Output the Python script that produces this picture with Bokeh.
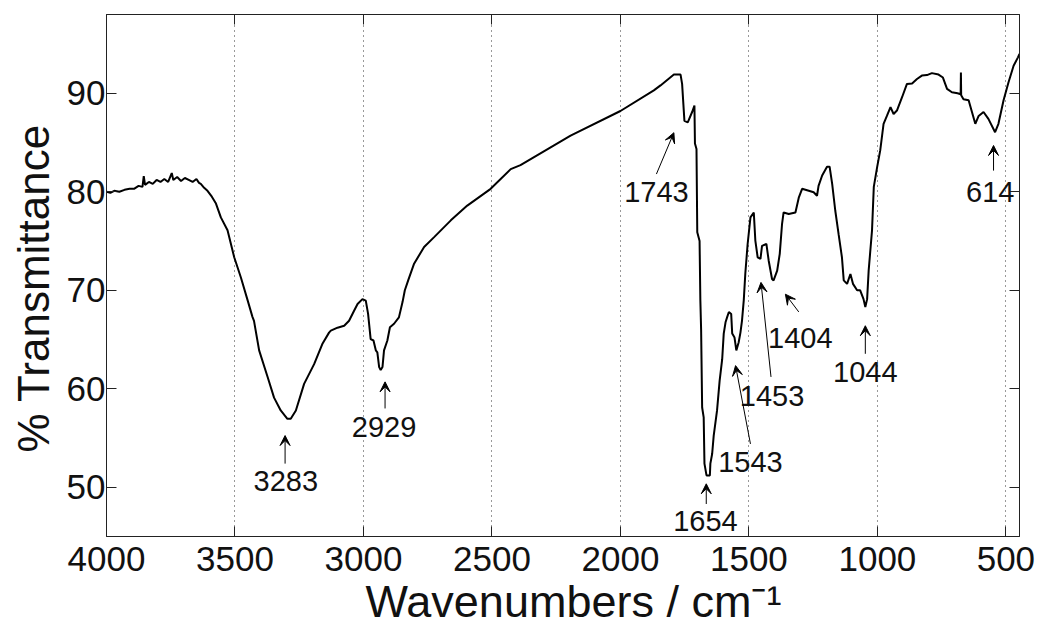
from bokeh.plotting import figure
from bokeh.models import (Range1d, FixedTicker, LinearAxis, Arrow, VeeHead,
                          ColumnDataSource, Title)
from bokeh.core.properties import value
from bokeh.embed import file_html
from bokeh.resources import INLINE

# ---------------- data ----------------
wavenumber = [
    4000, 3985, 3970, 3950, 3930, 3910, 3893, 3875, 3860, 3855, 3850, 3835, 3820,
    3805, 3790, 3775, 3760, 3746, 3740, 3725, 3710, 3695, 3680, 3665, 3650, 3640,
    3633, 3620, 3607, 3590, 3574, 3555, 3529, 3503, 3477, 3451, 3432, 3426, 3406,
    3373, 3348, 3322, 3296, 3283, 3263, 3231, 3192, 3159, 3134, 3127, 3101, 3075,
    3056, 3037, 3023, 3004, 2991, 2982, 2972, 2961, 2952, 2946, 2939, 2933, 2926,
    2920, 2907, 2897, 2881, 2862, 2848, 2839, 2826, 2803, 2764, 2725, 2660, 2596,
    2505, 2427, 2389, 2194, 2000, 1870, 1844, 1792, 1766, 1760, 1751, 1738, 1721,
    1712, 1710, 1704, 1701, 1692, 1689, 1686, 1682, 1676, 1673, 1665, 1652, 1650,
    1643, 1637, 1624, 1614, 1604, 1598, 1591, 1585, 1578, 1569, 1565, 1556, 1549,
    1540, 1533, 1527, 1520, 1514, 1505, 1494, 1481, 1475, 1466, 1455, 1449, 1432,
    1423, 1410, 1404, 1390, 1380, 1371, 1365, 1345, 1319, 1306, 1293, 1267, 1248,
    1235, 1229, 1215, 1196, 1186, 1176, 1164, 1151, 1138, 1131, 1118, 1105, 1095,
    1079, 1067, 1054, 1047, 1040, 1034, 1021, 1014, 1001, 989, 976, 963, 949, 937,
    924, 904, 885, 865, 846, 827, 807, 788, 762, 745, 729, 710, 688, 676, 675, 674,
    665, 645, 632, 619, 606, 587, 568, 542, 529, 509, 490, 470, 453, 447,
]
transmittance = [
    80.0, 79.9, 80.1, 80.0, 80.2, 80.3, 80.3, 80.6, 80.5, 81.6, 80.7, 81.0, 80.8,
    81.2, 81.0, 81.3, 81.0, 81.9, 81.2, 81.5, 81.1, 81.4, 81.2, 81.0, 81.3, 80.9,
    80.8, 80.4, 80.1, 79.5, 78.8, 77.4, 76.1, 73.35, 71.3, 69.0, 67.3, 66.9, 63.9,
    61.2, 59.1, 57.8, 56.95, 56.95, 57.8, 60.5, 62.5, 64.6, 65.7, 65.9, 66.2, 66.4,
    66.9, 67.9, 68.6, 69.1, 68.95, 67.6, 65.05, 64.9, 63.9, 63.7, 62.2, 61.9, 62.2,
    63.9, 64.9, 66.25, 66.6, 67.25, 68.8, 70.0, 71.0, 72.7, 74.4, 75.4, 77.1, 78.6,
    80.3, 82.3, 82.7, 85.7, 88.2, 90.3, 90.8, 91.9, 91.9, 90.95, 87.2, 87.05, 88.1,
    88.75, 84.9, 84.35, 75.9, 75.0, 69.0, 66.0, 58.1, 57.1, 52.4, 51.2, 51.2, 52.4,
    53.4, 55.25, 57.8, 60.8, 63.0, 65.6, 66.75, 67.25, 67.8, 67.6, 65.6, 65.2, 63.9,
    64.7, 65.7, 66.9, 69.0, 71.7, 74.7, 77.4, 77.9, 75.05, 73.35, 73.2, 74.5, 74.7,
    73.0, 71.15, 71.0, 72.0, 73.7, 76.75, 77.9, 77.75, 77.9, 79.4, 80.3, 80.1, 79.95,
    79.6, 80.6, 81.65, 82.55, 82.55, 80.8, 78.1, 75.7, 73.35, 71.0, 70.65, 71.65, 70.65,
    70.0, 70.0, 69.1, 68.3, 69.1, 72.0, 76.05, 80.5, 82.5, 84.2, 86.9, 87.7, 88.6, 87.9,
    88.25, 89.6, 90.95, 91.0, 91.45, 91.8, 91.85, 92.05, 91.9, 91.6, 90.45, 90.1, 90.0,
    89.9, 92.1, 89.8, 89.4, 89.3, 88.1, 86.9, 87.7, 88.1, 87.4, 86.05, 86.9, 89.3,
    91.1, 92.8, 93.65, 94.0,
]

# peak annotations
peak_labels = ["3283", "2929", "1743", "1654", "1543", "1453", "1404", "1044", "614"]
label_x = [3302, 2920, 1860, 1669, 1494, 1410, 1300, 1047, 561]
label_y = [50.65, 56.1, 79.95, 46.6, 52.6, 59.3, 65.2, 61.7, 79.95]
arrow_x_start = [3305, 2916, 1860, 1666, 1494, 1414, 1306, 1047, 548]
arrow_y_start = [52.4, 58.0, 81.8, 48.3, 54.4, 61.2, 67.8, 63.55, 82.15]
arrow_x_end = [3305, 2916, 1792, 1666, 1552, 1453, 1358, 1047, 548]
arrow_y_end = [55.25, 60.7, 86.0, 50.35, 62.35, 70.8, 69.6, 66.4, 84.7]

x_ticks = [500, 1000, 1500, 2000, 2500, 3000, 3500, 4000]
y_ticks = [50, 60, 70, 80, 90]

x_title = "Wavenumbers / cm\u207b\u00b9"
y_title = "% Transmittance"

FONT = "Liberation Sans"

p = figure(width=1037, height=630,
           x_range=Range1d(4000, 447), y_range=Range1d(45, 98),
           output_backend="svg", toolbar_location=None,
           min_border_left=106, min_border_right=18,
           min_border_top=14, min_border_bottom=94)
p.background_fill_color = "white"
p.border_fill_color = "white"
p.outline_line_color = "#222222"
p.outline_line_width = 1

# axes
for ax in (p.xaxis[0], p.yaxis[0]):
    ax.major_tick_in = 10
    ax.major_tick_out = 0
    ax.minor_tick_in = 0
    ax.minor_tick_out = 0
    ax.axis_line_color = "#222222"
    ax.major_tick_line_color = "#222222"
    ax.major_label_text_font = FONT
    ax.major_label_text_font_size = "35px"
    ax.major_label_text_color = "#111111"
p.xaxis[0].ticker = FixedTicker(ticks=x_ticks)
p.yaxis[0].ticker = FixedTicker(ticks=y_ticks)
p.xaxis[0].major_label_standoff = 10
p.yaxis[0].major_label_standoff = 1

top_axis = LinearAxis(ticker=FixedTicker(ticks=x_ticks),
                      major_label_overrides={t: "" for t in x_ticks},
                      major_label_text_font_size="1px",
                      major_tick_in=10, major_tick_out=0,
                      minor_tick_in=0, minor_tick_out=0,
                      axis_line_color="#222222", major_tick_line_color="#222222",
                      major_label_standoff=0)
right_axis = LinearAxis(ticker=FixedTicker(ticks=y_ticks),
                        major_label_overrides={t: "" for t in y_ticks},
                        major_label_text_font_size="1px",
                        major_tick_in=10, major_tick_out=0,
                        minor_tick_in=0, minor_tick_out=0,
                        axis_line_color="#222222", major_tick_line_color="#222222",
                        major_label_standoff=0)
p.add_layout(top_axis, "above")
p.add_layout(right_axis, "right")

# axis titles
p.add_layout(Title(text=x_title, align="left", offset=259, standoff=1,
                   text_line_height=0.8, text_baseline="alphabetic",
                   text_font=FONT, text_font_size="45px",
                   text_font_style="normal", text_color="#111111"), "below")
p.add_layout(Title(text=y_title, align="left", offset=84, standoff=12,
                   text_font=FONT, text_font_size="44px",
                   text_font_style="normal", text_color="#111111"), "left")

# grid
p.xgrid.ticker = FixedTicker(ticks=x_ticks)
p.xgrid.grid_line_color = "#333333"
p.xgrid.grid_line_dash = "1 4"
p.xgrid.grid_line_width = 1
p.ygrid.grid_line_color = None

# spectrum
src = ColumnDataSource(dict(x=wavenumber, y=transmittance))
p.line("x", "y", source=src, line_color="black", line_width=2)

# peak arrows
arr_src = ColumnDataSource(dict(x0=arrow_x_start, y0=arrow_y_start,
                                x1=arrow_x_end, y1=arrow_y_end))
p.add_layout(Arrow(x_start="x0", y_start="y0", x_end="x1", y_end="y1",
                   source=arr_src, line_color="black", line_width=1,
                   end=VeeHead(size=10, fill_color="black", line_color="black",
                               line_width=1)))

# peak labels
lab_src = ColumnDataSource(dict(x=label_x, y=label_y, t=peak_labels))
p.text("x", "y", text="t", source=lab_src, text_font=value(FONT),
       text_font_size="29px", text_align="center", text_baseline="middle",
       text_color="#111111")

open("out.html", "w").write(file_html(p, INLINE))
